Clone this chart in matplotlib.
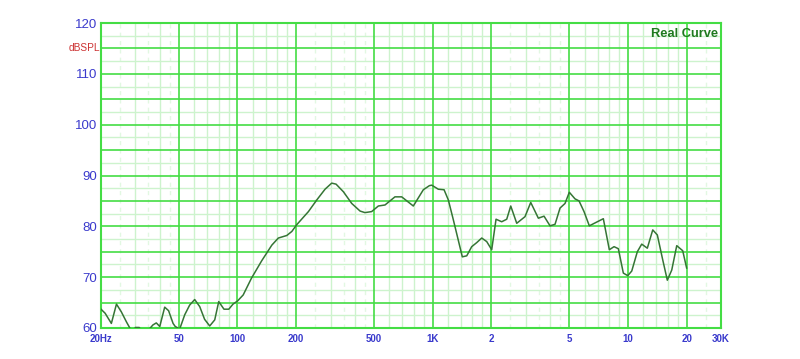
import matplotlib
matplotlib.use("Agg")
import matplotlib.pyplot as plt
import matplotlib.transforms as mtransforms
import numpy as np

# ---- data ----
freq_hz = [20, 21, 22.6, 24, 25.4, 27, 28.1, 29, 30, 31.4, 33, 35, 36.9, 38.4, 40,
           42.4, 44.4, 46.8, 48, 50.6, 53.7, 56.9, 60.4, 64.1, 67.9, 72.1, 76.5, 80.2,
           85.3, 90.3, 94.9, 100, 107, 118, 133, 150, 162, 179, 190, 201, 231, 255,
           281, 304, 320, 349, 385, 425, 450, 487, 527, 570, 641, 694, 796, 896, 962,
           989, 1069, 1144, 1203, 1276, 1419, 1495, 1585, 1682, 1784, 1892, 2007, 2112,
           2258, 2396, 2512, 2696, 2972, 3180, 3479, 3720, 3993, 4236, 4493, 4765, 5013,
           5362, 5622, 5963, 6347, 7488, 8036, 8495, 8937, 9480, 9985, 10468, 11180,
           11776, 12580, 13412, 14157, 15088, 15928, 16781, 17800, 19099, 20000]
spl_db = [63.7, 62.9, 60.9, 64.7, 63.2, 61.2, 60.0, 59.0, 60.1, 60.1, 59.0, 59.6, 60.6, 61.0, 60.3,
          64.1, 63.4, 60.9, 60.3, 59.8, 62.6, 64.5, 65.6, 64.2, 61.7, 60.4, 61.6, 65.2,
          63.7, 63.7, 64.7, 65.3, 66.5, 69.8, 73.2, 76.3, 77.7, 78.2, 79.0, 80.3, 82.9, 85.2,
          87.3, 88.5, 88.3, 86.8, 84.5, 83.0, 82.7, 82.9, 84.0, 84.2, 85.8, 85.8, 84.0, 87.2, 88.0,
          88.1, 87.3, 87.2, 85.2, 81.3, 74.0, 74.2, 76.0, 76.8, 77.7, 77.0, 75.4, 81.4,
          80.9, 81.4, 84.0, 80.6, 81.9, 84.7, 81.6, 82.0, 80.1, 80.4, 83.6, 84.5, 86.7,
          85.4, 85.0, 82.9, 80.1, 81.5, 75.4, 76.0, 75.6, 70.8, 70.3, 71.2, 75.0,
          76.5, 75.7, 79.3, 78.3, 73.4, 69.4, 71.4, 76.2, 75.2, 71.8]

x_ticks = [20, 50, 100, 200, 500, 1000, 2000, 5000, 10000, 20000, 30000]
x_labels = ["20Hz", "50", "100", "200", "500", "1K", "2", "5", "10", "20", "30K"]
y_ticks = [60, 70, 80, 90, 100, 110, 120]
y_labels = ["60", "70", "80", "90", "100", "110", "120"]
y_unit = "dBSPL"
title = "Real Curve"

# ---- styling ----
MAJOR = "#44dd44"
MINOR = "#cdf3cd"
FAINT = "#e2f8e2"
LINE = "#357535"
BLUE = "#3a3acc"
RED = "#cc3333"
FONT = "Liberation Sans"

fig = plt.figure(figsize=(8.0, 3.59), dpi=100)
ax = fig.add_axes([101 / 800, 1 - 328 / 359, 620 / 800, 305 / 359])
ax.set_xscale("log")
ax.set_xlim(20, 30000)
ax.set_ylim(60, 120)

# vertical grid
decades = [10, 100, 1000, 10000]
solid_minor = []
dashed_minor = []
for d in decades:
    for m in [1.2, 1.4, 1.6, 1.8, 3, 4, 6, 7, 8, 9]:
        solid_minor.append(m * d)
    for m in [2.5, 3.5, 4.5]:
        dashed_minor.append(m * d)
for v in dashed_minor:
    if 20 < v < 30000:
        ax.axvline(v, color=FAINT, lw=1.0, ls=(0, (3, 3)), zorder=0)
for v in solid_minor:
    if 20 < v < 30000:
        ax.axvline(v, color=MINOR, lw=1.0, zorder=0.5)
for v in x_ticks[1:-1]:
    ax.axvline(v, color=MAJOR, lw=1.2, zorder=1)

# horizontal grid
for v in np.arange(62.5, 120, 5):
    ax.axhline(v, color=MINOR, lw=1.0, zorder=0.5)
for v in np.arange(65, 120, 5):
    ax.axhline(v, color=MAJOR, lw=1.2, zorder=1)

ax.plot(freq_hz, spl_db, color=LINE, lw=1.1, zorder=3, clip_on=True)

for s in ax.spines.values():
    s.set_color(MAJOR)
    s.set_linewidth(1.5)

ax.set_xticks(x_ticks)
ax.set_xticklabels(x_labels)
ax.xaxis.set_minor_locator(matplotlib.ticker.NullLocator())
ax.set_yticks(y_ticks)
ax.set_yticklabels(y_labels)
ax.tick_params(axis="x", length=0, pad=4, labelsize=7, labelcolor=BLUE)
ax.tick_params(axis="y", length=0, pad=3, labelsize=9.5, labelcolor=BLUE)
for lab in ax.get_xticklabels():
    lab.set_fontfamily(FONT)
    lab.set_fontweight("bold")
for lab in ax.get_yticklabels():
    lab.set_fontfamily(FONT)

trans = mtransforms.blended_transform_factory(ax.transAxes, ax.transData)
ax.text(-0.002, 115, y_unit, transform=trans, ha="right", va="center",
        color=RED, fontsize=7.3, family=FONT)
ax.text(0.995, 0.985, title, transform=ax.transAxes, ha="right", va="top",
        color="#1f7a1f", fontsize=9.3, fontweight="bold", family=FONT)

fig.savefig("out.png", dpi=100, facecolor="white")
